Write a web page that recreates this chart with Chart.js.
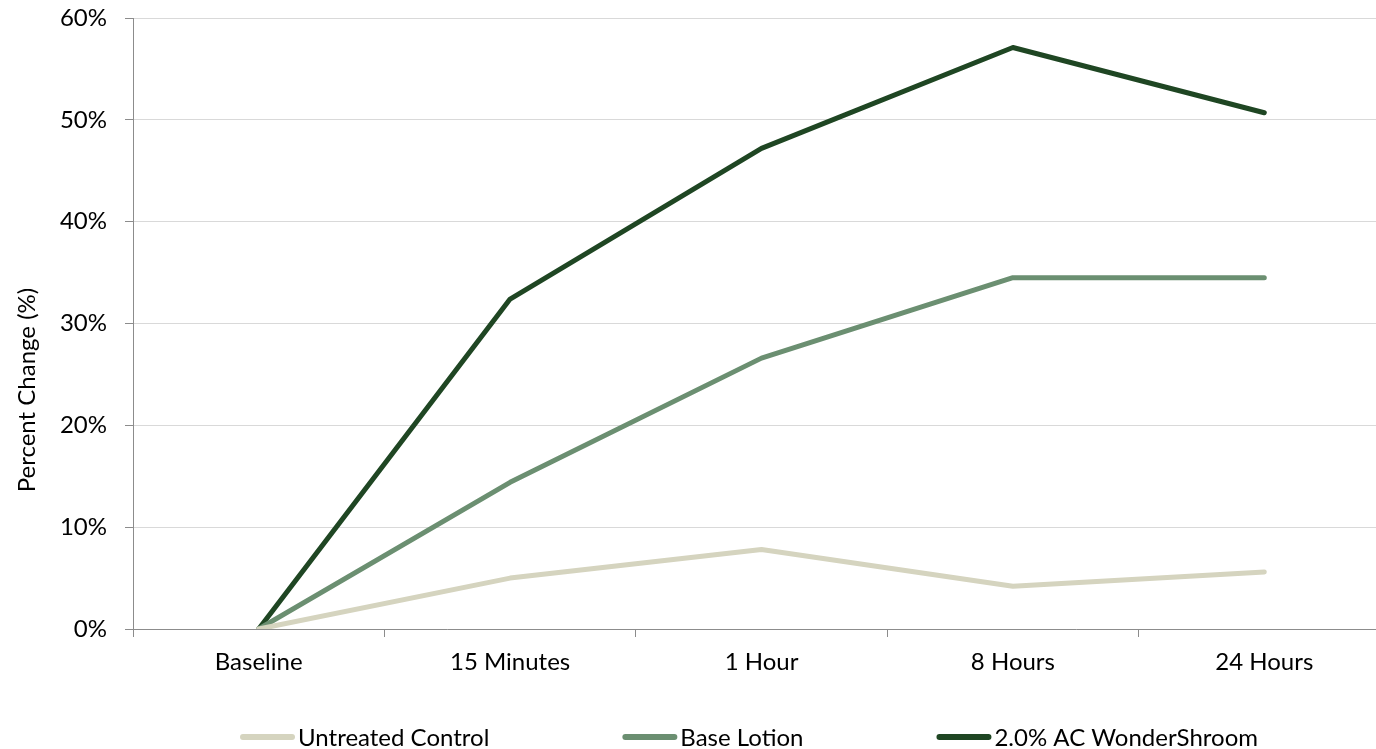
<!DOCTYPE html>
<html>
<head>
<meta charset="utf-8">
<script src="https://cdn.jsdelivr.net/npm/chart.js@4/dist/chart.umd.min.js"></script>
<style>
  html, body { margin: 0; padding: 0; background: #fff; overflow: hidden; }
  #wrap { position: relative; width: 1392px; height: 749px; }
</style>
</head>
<body>
<div id="wrap"><canvas id="c"></canvas></div>
<script>
const categories = ['Baseline', '15 Minutes', '1 Hour', '8 Hours', '24 Hours'];
const untreatedControl = [0, 5.0, 7.8, 4.2, 5.6];
const baseLotion = [0, 14.4, 26.6, 34.5, 34.5];
const wonderShroom = [0, 32.4, 47.2, 57.1, 50.7];
const seriesNames = ['Untreated Control', 'Base Lotion', '2.0% AC WonderShroom'];
const seriesColors = ['#d5d4bf', '#6b8f71', '#1f4623'];
const yTicks = { min: 0, max: 60, step: 10 };
const yTitle = 'Percent Change (%)';

const FONT = 'Lato, "Open Sans", sans-serif';

const legendPlugin = {
  id: 'bottomLegend',
  afterDraw(chart) {
    const ctx = chart.ctx;
    const ds = chart.data.datasets;
    const sampleW = 55, textGap = 3, itemGap = 133;
    ctx.save();
    ctx.font = '24px ' + FONT;
    const widths = ds.map(d => sampleW + textGap + ctx.measureText(d.label).width);
    const total = widths.reduce((a, b) => a + b, 0) + itemGap * (ds.length - 1);
    let x = 749 - total / 2;
    const y = 737;
    ds.forEach((d, i) => {
      ctx.strokeStyle = d.borderColor;
      ctx.lineWidth = 6;
      ctx.lineCap = 'round';
      ctx.beginPath();
      ctx.moveTo(x + 3, y);
      ctx.lineTo(x + sampleW - 3, y);
      ctx.stroke();
      ctx.fillStyle = '#000';
      ctx.textBaseline = 'middle';
      ctx.textAlign = 'left';
      ctx.fillText(d.label, x + sampleW + textGap, y + 1);
      x += widths[i] + itemGap;
    });
    // y axis title
    ctx.translate(27, 390);
    ctx.rotate(-Math.PI / 2);
    ctx.textAlign = 'center';
    ctx.textBaseline = 'middle';
    ctx.fillText(yTitle, 0, 0);
    ctx.restore();
  }
};

const mk = (label, data, color) => ({
  label, data,
  borderColor: color,
  backgroundColor: color,
  borderWidth: 5,
  borderCapStyle: 'round',
  borderJoinStyle: 'round',
  pointRadius: 0,
  pointHoverRadius: 0,
  tension: 0,
  fill: false
});

new Chart(document.getElementById('c'), {
  type: 'line',
  data: {
    labels: categories,
    datasets: [
      mk(seriesNames[0], untreatedControl, seriesColors[0]),
      mk(seriesNames[1], baseLotion, seriesColors[1]),
      mk(seriesNames[2], wonderShroom, seriesColors[2])
    ]
  },
  plugins: [legendPlugin],
  options: {
    responsive: true,
    maintainAspectRatio: false,
    animation: false,
    layout: { padding: { top: 18, left: 0, right: 2, bottom: 0 } },
    plugins: {
      legend: { display: false },
      tooltip: { enabled: false }
    },
    scales: {
      x: {
        type: 'category',
        offset: true,
        grid: {
          offset: true,
          drawOnChartArea: false,
          drawTicks: true,
          tickLength: 8,
          tickColor: '#8c8c8c',
          tickWidth: 1
        },
        border: { display: true, color: '#8c8c8c', width: 1 },
        ticks: {
          color: '#000',
          font: { family: FONT, size: 24 },
          padding: 11,
          maxRotation: 0,
          autoSkip: false
        },
        afterFit(s) { s.height = 120; s.paddingLeft = 0; s.paddingRight = 0; }
      },
      y: {
        min: yTicks.min,
        max: yTicks.max,
        grid: {
          color: '#d9d9d9',
          lineWidth: 1,
          drawTicks: true,
          tickLength: 8,
          tickColor: '#8c8c8c'
        },
        border: { display: true, color: '#8c8c8c', width: 1 },
        ticks: {
          stepSize: yTicks.step,
          color: '#000',
          font: { family: FONT, size: 24 },
          padding: 18,
          callback: v => v + '%'
        },
        afterFit(s) { s.width = 133; s.paddingTop = 0; s.paddingBottom = 0; }
      }
    }
  }
});
</script>
</body>
</html>
